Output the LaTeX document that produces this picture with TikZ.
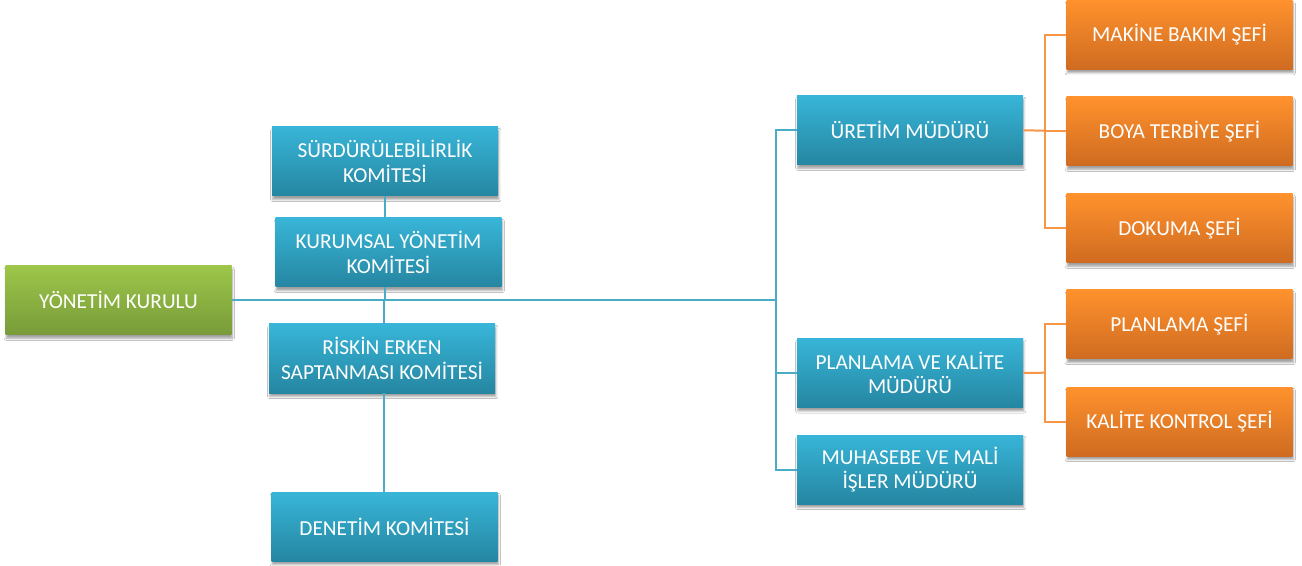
\documentclass[tikz,border=0pt]{standalone}
\usepackage{fontspec}
\setmainfont{Carlito}
\usetikzlibrary{shadows.blur}
\definecolor{bTop}{HTML}{38B5D8}
\definecolor{bBot}{HTML}{2586A1}
\definecolor{gTop}{HTML}{9DC64A}
\definecolor{gBot}{HTML}{789B39}
\definecolor{oTop}{HTML}{FF922D}
\definecolor{oBot}{HTML}{CF6B21}
\definecolor{bLine}{HTML}{4BACC6}
\definecolor{oLine}{HTML}{F79646}
\tikzset{
  box/.style={rectangle, minimum width=169.5pt, minimum height=51.75pt, inner sep=0pt,
    align=center, text=white, font=\fontsize{16}{18.5}\selectfont,
    blur shadow={shadow xshift=0.6pt, shadow yshift=-2.6pt, shadow blur radius=1.6pt, shadow opacity=38}},
  bluebox/.style={box, top color=bTop, bottom color=bBot},
  greenbox/.style={box, top color=gTop, bottom color=gBot},
  orangebox/.style={box, top color=oTop, bottom color=oBot},
  bl/.style={draw=bLine, line width=1.5pt},
  ol/.style={draw=oLine, line width=1.5pt}
}
\begin{document}
\begin{tikzpicture}[x=0.75pt,y=-0.75pt]
\useasboundingbox[fill=white] (0,0) rectangle (1302,566);
\coordinate (bus) at (776,300.3);
\coordinate (j) at (385,300.3);
\coordinate (ob) at (1045,130.7);
\coordinate (ob2) at (1045,372.7);
% nodes
\node[greenbox] (YK) at (118.5,300.3) {YÖNETİM KURULU};
\node[bluebox] (S) at (385,161.5) {SÜRDÜRÜLEBİLİRLİK\\KOMİTESİ};
\node[bluebox] (K) at (388.5,252.5) {KURUMSAL YÖNETİM\\KOMİTESİ};
\node[bluebox] (R) at (382,358.5) {RİSKİN ERKEN\\SAPTANMASI KOMİTESİ};
\node[bluebox] (D) at (384.5,526.5) {DENETİM KOMİTESİ};
\node[bluebox] (U) at (910,130.3) {ÜRETİM MÜDÜRÜ};
\node[bluebox] (PVK) at (910,373) {PLANLAMA VE KALİTE\\MÜDÜRÜ};
\node[bluebox] (MUH) at (910,469.5) {MUHASEBE VE MALİ\\İŞLER MÜDÜRÜ};
\node[orangebox] (MAK) at (1179.5,34.8) {MAKİNE BAKIM ŞEFİ};
\node[orangebox] (BOY) at (1179.5,131.3) {BOYA TERBİYE ŞEFİ};
\node[orangebox] (DOK) at (1179.5,228.3) {DOKUMA ŞEFİ};
\node[orangebox] (PS) at (1179.5,324.5) {PLANLAMA ŞEFİ};
\node[orangebox] (KK) at (1179.5,421.5) {KALİTE KONTROL ŞEFİ};
% blue connectors
\draw[bl] (YK.east) -- (bus);
\draw[bl] (U.west) -| (bus) |- (MUH.west);
\draw[bl] (bus) |- (PVK.west);
\draw[bl] (S.south -| j) -- (K.north -| j);
\draw[bl] (K.south -| j) -- (j);
\draw[bl] ([xshift=-0.75pt]j) -- ([xshift=-0.75pt]j |- R.north);
\draw[bl] ([xshift=-0.75pt]R.south -| j) -- ([xshift=-0.75pt]D.north -| j);
% orange connectors
\draw[ol] (U.east) -- (ob);
\draw[ol] (MAK.west) -| (ob) |- (DOK.west);
\draw[ol] (ob |- BOY.west) -- (BOY.west);
\draw[ol] (PVK.east) -- (ob2);
\draw[ol] (PS.west) -| (ob2) |- (KK.west);
\end{tikzpicture}
\end{document}
